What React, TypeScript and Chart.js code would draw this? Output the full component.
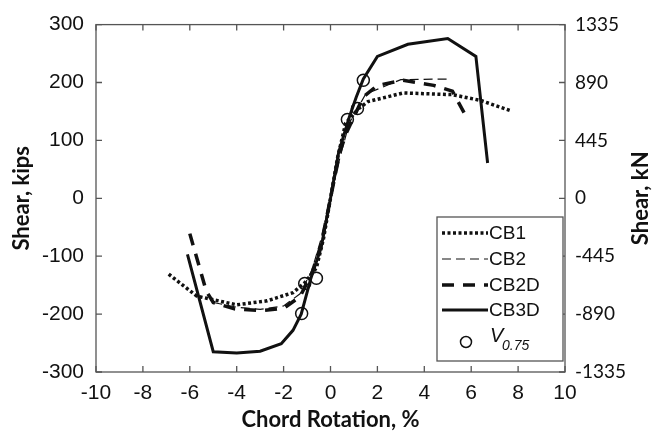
import React, { useEffect, useRef } from "react";
import { Chart, registerables } from "chart.js";

Chart.register(...registerables);

// Chord rotation (%) and shear (kips)
const CB1_X = [-6.9, -5.7, -4.0, -2.7, -1.6, -1.1, -0.6, -0.3, 0, 0.3, 0.65, 1.2, 1.6, 3.1, 5.2, 6.4, 7.7];
const CB1_Y = [-131, -169, -184, -177, -163, -146, -120, -70, 0, 70, 130, 155, 167, 182, 179, 169, 151];

const CB2_X = [-5.0, -4.0, -3.0, -2.0, -1.3, -0.8, -0.4, 0, 0.4, 0.8, 1.5, 3.0, 5.0];
const CB2_Y = [-180, -188, -192, -186, -165, -125, -70, 0, 70, 130, 180, 205, 206];

const CB2D_X = [-6.0, -5.3, -5.0, -4.1, -3.0, -2.0, -1.3, -0.8, -0.4, 0, 0.4, 0.7, 1.4, 2.0, 3.1, 4.4, 5.2, 5.8];
const CB2D_Y = [-61, -160, -180, -191, -194, -190, -170, -130, -80, 0, 80, 115, 175, 195, 204, 195, 185, 140];

const CB3D_X = [-6.1, -5.0, -4.0, -3.0, -2.1, -1.6, -1.25, -0.85, -0.4, 0, 0.35, 0.8, 1.1, 1.4, 2.0, 3.3, 5.0, 6.2, 6.7];
const CB3D_Y = [-97, -265, -267, -264, -251, -228, -200, -140, -85, 0, 80, 140, 175, 206, 245, 266, 276, 245, 61];

const V075_X = [0.72, 1.15, 1.4, -1.1, -0.6, -1.23];
const V075_Y = [136, 155, 204, -147, -138, -199];

const X_MIN = -10, X_MAX = 10, X_STEP = 2;
const Y_MIN = -300, Y_MAX = 300, Y_STEP = 100;
const KN_MIN = -1335, KN_MAX = 1335, KN_STEP = 445;

const LEGEND = ["CB1", "CB2", "CB2D", "CB3D"];
const RIGHT_TITLE = "Shear, kN";

const pts = (xs: number[], ys: number[]) => xs.map((x, i) => ({ x, y: ys[i] }));

const INK = "#111";
const TICK_FONT = "'Liberation Sans', Arial, sans-serif";
const TITLE_FONT = "Lato, 'Open Sans', sans-serif";

const framePlugin = {
  id: "frame",
  afterDraw(chart: any) {
    const { ctx, chartArea: a, scales } = chart;
    ctx.save();
    // box
    ctx.strokeStyle = "#555";
    ctx.lineWidth = 1.3;
    ctx.strokeRect(a.left, a.top, a.right - a.left, a.bottom - a.top);
    // inward ticks
    ctx.beginPath();
    const tl = 6;
    scales.x.ticks.forEach((t: any) => {
      const px = scales.x.getPixelForValue(t.value);
      ctx.moveTo(px, a.bottom); ctx.lineTo(px, a.bottom - tl);
      ctx.moveTo(px, a.top); ctx.lineTo(px, a.top + tl);
    });
    scales.y.ticks.forEach((t: any) => {
      const py = scales.y.getPixelForValue(t.value);
      ctx.moveTo(a.left, py); ctx.lineTo(a.left + tl, py);
    });
    scales.y2.ticks.forEach((t: any) => {
      const py = scales.y2.getPixelForValue(t.value);
      ctx.moveTo(a.right, py); ctx.lineTo(a.right - tl, py);
    });
    ctx.stroke();

    // right axis title, reading bottom to top
    ctx.save();
    ctx.translate(641, (a.top + a.bottom) / 2);
    ctx.rotate(-Math.PI / 2);
    ctx.fillStyle = INK;
    ctx.font = `bold 22px ${TITLE_FONT}`;
    ctx.textAlign = "center";
    ctx.textBaseline = "middle";
    ctx.fillText(RIGHT_TITLE, 0, 0);
    ctx.restore();

    // legend box
    const lx = 437, ly = 217, lw = 126, lh = 144;
    ctx.fillStyle = "#fff";
    ctx.fillRect(lx, ly, lw, lh);
    ctx.strokeStyle = "#555";
    ctx.lineWidth = 1.3;
    ctx.strokeRect(lx, ly, lw, lh);
    const rows = [233, 259, 285, 310];
    chart.data.datasets.slice(0, 4).forEach((ds: any, i: number) => {
      ctx.beginPath();
      ctx.strokeStyle = ds.borderColor;
      ctx.lineWidth = ds.borderWidth;
      ctx.setLineDash(ds.borderDash || []);
      ctx.moveTo(442, rows[i]);
      ctx.lineTo(488, rows[i]);
      ctx.stroke();
      ctx.setLineDash([]);
      ctx.fillStyle = INK;
      ctx.font = `19px ${TICK_FONT}`;
      ctx.textBaseline = "middle";
      ctx.textAlign = "left";
      ctx.fillText(LEGEND[i], 489, rows[i] + 1);
    });
    // V0.75 entry
    ctx.beginPath();
    ctx.strokeStyle = INK;
    ctx.lineWidth = 1.5;
    ctx.arc(466, 342, 5.5, 0, Math.PI * 2);
    ctx.stroke();
    ctx.fillStyle = INK;
    ctx.font = `italic 20px ${TICK_FONT}`;
    ctx.textBaseline = "middle";
    ctx.fillText("V", 490, 336);
    ctx.font = `italic 14px ${TICK_FONT}`;
    ctx.fillText("0.75", 502, 346);
    ctx.restore();
  },
};

export default function App() {
  const ref = useRef<HTMLCanvasElement>(null);
  useEffect(() => {
    if (!ref.current) return;
    const fixW = (w: number) => (s: any) => { s.width = w; };
    const chart = new Chart(ref.current, {
      type: "scatter",
      data: {
        datasets: [
          { label: "CB1", data: pts(CB1_X, CB1_Y), showLine: true, borderColor: INK, borderWidth: 3.5, borderDash: [3, 2.5], pointRadius: 0, borderCapStyle: "butt" },
          { label: "CB2", data: pts(CB2_X, CB2_Y), showLine: true, borderColor: INK, borderWidth: 1.2, borderDash: [9, 5], pointRadius: 0 },
          { label: "CB2D", data: pts(CB2D_X, CB2D_Y), showLine: true, borderColor: INK, borderWidth: 3.5, borderDash: [12, 9], pointRadius: 0 },
          { label: "CB3D", data: pts(CB3D_X, CB3D_Y), showLine: true, borderColor: INK, borderWidth: 3, pointRadius: 0 },
          { label: "V0.75", data: pts(V075_X, V075_Y), showLine: false, pointRadius: 6, pointBorderColor: INK, pointBackgroundColor: "rgba(0,0,0,0)", pointBorderWidth: 1.5, borderColor: INK },
        ] as any,
      },
      options: {
        animation: false,
        responsive: false,
        layout: { padding: { top: 20, left: 0, right: 0, bottom: 0 } },
        plugins: { legend: { display: false }, tooltip: { enabled: false } },
        scales: {
          x: {
            type: "linear", min: X_MIN, max: X_MAX,
            afterFit: (s: any) => { s.height = 65; },
            grid: { display: false, drawTicks: false }, border: { display: false },
            ticks: { stepSize: X_STEP, color: INK, font: { family: TICK_FONT, size: 21 }, padding: 9 },
            title: { display: true, text: "Chord Rotation, %", color: INK, font: { family: TITLE_FONT, size: 22, weight: "bold" }, padding: { top: 0, bottom: 4 } },
          },
          y: {
            type: "linear", position: "left", min: Y_MIN, max: Y_MAX,
            afterFit: fixW(96),
            grid: { display: false, drawTicks: false }, border: { display: false },
            ticks: { stepSize: Y_STEP, color: INK, font: { family: TICK_FONT, size: 21 }, padding: 12 },
            title: { display: true, text: "Shear, kips", color: INK, font: { family: TITLE_FONT, size: 22, weight: "bold" }, padding: { top: 9, bottom: 0 } },
          },
          y2: {
            type: "linear", position: "right", min: KN_MIN, max: KN_MAX,
            afterFit: fixW(96),
            afterBuildTicks: (s: any) => {
              const t = [];
              for (let v = KN_MIN; v <= KN_MAX; v += KN_STEP) t.push({ value: v });
              s.ticks = t;
            },
            grid: { display: false, drawTicks: false }, border: { display: false },
            ticks: { color: INK, font: { family: TITLE_FONT, size: 19 }, padding: 10, callback: (v: any) => String(v) },
            title: { display: false },
          },
        },
      },
      plugins: [framePlugin],
    });
    return () => chart.destroy();
  }, []);
  return (
    <div style={{ position: "absolute", left: 0, top: 0, width: 661, height: 437, background: "#fff" }}>
      <canvas ref={ref} width={661} height={437} />
    </div>
  );
}
